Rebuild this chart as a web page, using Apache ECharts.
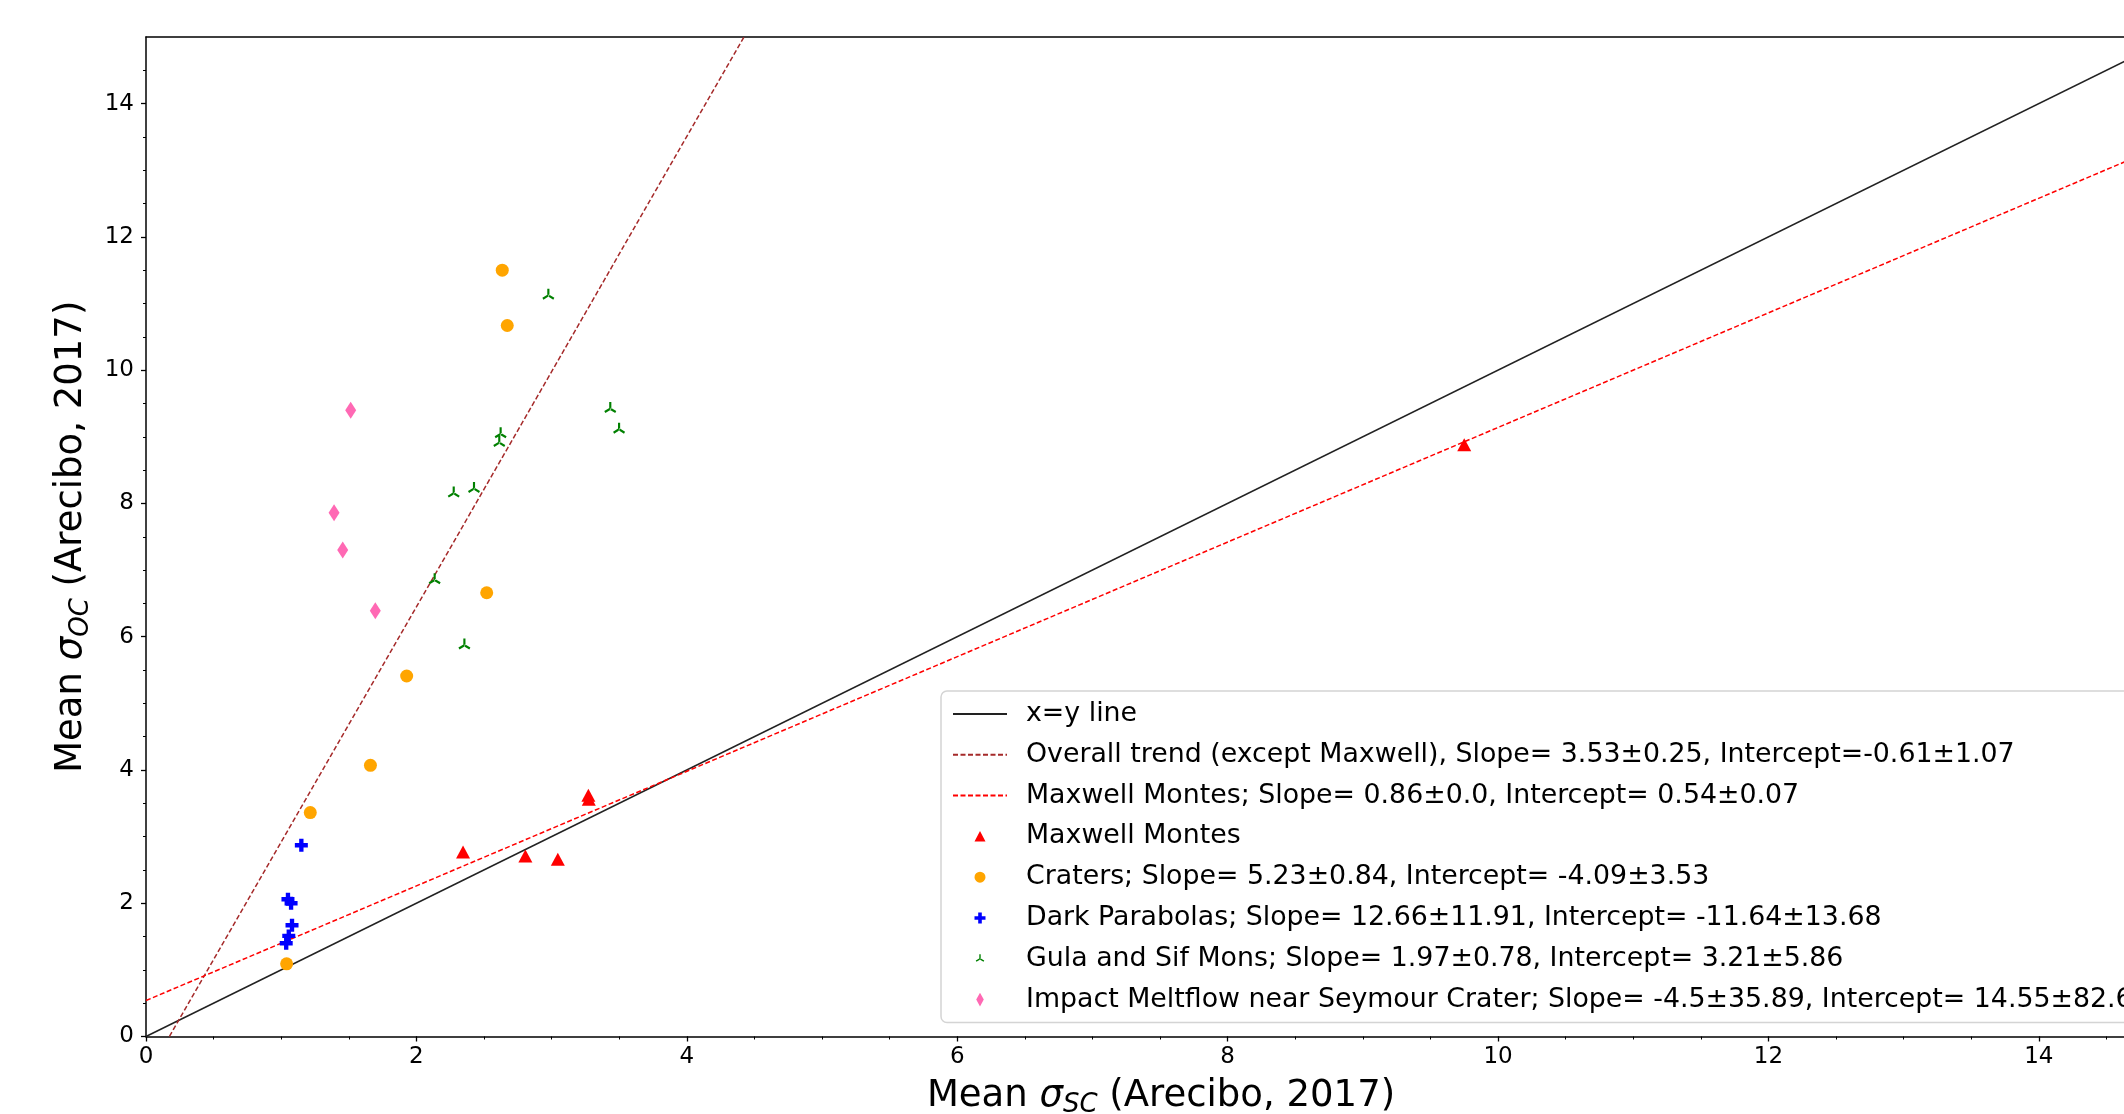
<!DOCTYPE html>
<html>
<head>
<meta charset="utf-8">
<script src="https://cdn.jsdelivr.net/npm/echarts@6/dist/echarts.min.js"></script>
<style>
  html, body { margin: 0; padding: 0; background: #fff; }
  #main { width: 2124px; height: 1114px; }
</style>
</head>
<body>
<div id="main"></div>
<script>
// ---------------- data ----------------
// fit lines (end points)
const xyLineX = [0, 15];
const xyLineY = [0, 15];
const overallX = [0.173, 4.423];
const overallY = [0, 15];
const maxwellLineX = [0, 15];
const maxwellLineY = [0.54, 13.44];

// Maxwell Montes
const maxwellX = [2.345, 2.806, 3.046, 3.272, 3.275, 9.75];
const maxwellY = [2.77, 2.71, 2.66, 3.62, 3.56, 8.88];
// Craters
const cratersX = [2.635, 2.672, 2.52, 1.928, 1.66, 1.215, 1.04];
const cratersY = [11.50, 10.67, 6.66, 5.41, 4.07, 3.36, 1.09];
// Dark Parabolas
const parabolaX = [1.149, 1.05, 1.073, 1.08, 1.056, 1.037];
const parabolaY = [2.87, 2.06, 2.00, 1.67, 1.51, 1.40];
// Gula and Sif Mons
const gulaX = [2.976, 3.434, 3.499, 2.623, 2.613, 2.276, 2.426, 2.135, 2.355];
const gulaY = [11.14, 9.44, 9.13, 9.06, 8.93, 8.17, 8.24, 6.87, 5.89];
// Impact Meltflow near Seymour Crater
const meltX = [1.514, 1.391, 1.455, 1.696];
const meltY = [9.40, 7.86, 7.30, 6.39];

const names = [
  'x=y line',
  'Overall trend (except Maxwell), Slope= 3.53±0.25, Intercept=-0.61±1.07',
  'Maxwell Montes; Slope= 0.86±0.0, Intercept= 0.54±0.07',
  'Maxwell Montes',
  'Craters; Slope= 5.23±0.84, Intercept= -4.09±3.53',
  'Dark Parabolas; Slope= 12.66±11.91, Intercept= -11.64±13.68',
  'Gula and Sif Mons; Slope= 1.97±0.78, Intercept= 3.21±5.86',
  'Impact Meltflow near Seymour Crater; Slope= -4.5±35.89, Intercept= 14.55±82.6'
];

// axis range (the figure is cut at the right edge)
const xMax = 14.63;
const yMax = 15;
const majorTicks = [0, 2, 4, 6, 8, 10, 12, 14];
const minorTicks = [];
for (let v = 0.5; v < 15; v += 0.5) minorTicks.push(v);

// ---------------- helpers ----------------
function zip(xs, ys) {
  return xs.map((x, i) => [x, ys[i]]);
}

const FONT = 'DejaVu Sans';

// marker shapes
const plusPath = 'path://M-1,-3H1V-1H3V1H1V3H-1V1H-3V-1H-1Z';
const triUpPath = 'path://M-1.7,0V-10H1.7V0Z M0.85,1.47L-7.81,6.47L-9.51,3.53L-0.85,-1.47Z M-0.85,1.47L7.81,6.47L9.51,3.53L0.85,-1.47Z';

// legend icons: tiny corner specks keep the box 54x14 so the marker stays centred
const box = 'M-27,-7h0.01v0.01z M27,7h-0.01v-0.01z ';
const legTri = 'path://' + box + 'M0,-5.5L5.5,5L-5.5,5Z';
const legCircle = 'path://' + box + 'M-5.5,0A5.5,5.5,0,1,0,5.5,0A5.5,5.5,0,1,0,-5.5,0Z';
const legPlus = 'path://' + box + 'M-1.8,-5.5H1.8V-1.8H5.5V1.8H1.8V5.5H-1.8V1.8H-5.5V-1.8H-1.8Z';
const legTriUp = 'path://' + box + 'M-0.7,0V-4.5H0.7V0Z M0.35,0.6L-3.55,2.85L-4.25,1.65L-0.35,-0.6Z M-0.35,0.6L3.55,2.85L4.25,1.65L0.35,-0.6Z';
const legDiamond = 'path://' + box + 'M0,-6.8L3.8,0L0,6.8L-3.8,0Z';

function nameRich(sub) {
  return '{m|Mean }{g|σ}{s|' + sub + '}{m| (Arecibo, 2017)}';
}
function nameStyle(pad) {
  return {
    fontFamily: FONT,
    color: '#000',
    fontSize: 37,
    padding: pad,
    rich: {
      m: { fontFamily: FONT, fontSize: 37, lineHeight: 44, color: '#000' },
      g: { fontFamily: FONT, fontSize: 37, fontStyle: 'italic', lineHeight: 44, color: '#000' },
      s: { fontFamily: FONT, fontSize: 26, fontStyle: 'italic', lineHeight: 24, verticalAlign: 'bottom', color: '#000' }
    }
  };
}

const myChart = echarts.init(document.getElementById('main'), null, { renderer: 'canvas' });

const lineLegendStyle = { opacity: 0 };

const option = {
  backgroundColor: '#fff',
  animation: false,
  grid: {
    left: 146,
    top: 37,
    right: 0,
    height: 999.5,
    containLabel: false,
    outerBoundsMode: 'none',
    show: false
  },
  xAxis: [
    {
      type: 'value',
      min: 0,
      max: xMax,
      interval: 2,
      name: nameRich('SC'),
      nameLocation: 'middle',
      nameGap: 38,
      nameTextStyle: nameStyle([0, 0, 0, 52]),
      axisLine: { show: true, onZero: false, lineStyle: { color: '#000', width: 1.5 } },
      axisTick: { show: true, length: 5, customValues: majorTicks, lineStyle: { color: '#000', width: 1.3 } },
      axisLabel: { show: true, customValues: majorTicks, margin: 9, fontFamily: FONT, fontSize: 23, color: '#000' },
      splitLine: { show: false }
    },
    {
      type: 'value',
      min: 0,
      max: xMax,
      interval: 0.5,
      position: 'bottom',
      axisLine: { show: false, onZero: false },
      axisTick: { show: true, length: 3, customValues: minorTicks, lineStyle: { color: '#000', width: 1 } },
      axisLabel: { show: false },
      splitLine: { show: false }
    },
    {
      // top spine
      type: 'value',
      min: 0,
      max: xMax,
      position: 'top',
      axisLine: { show: true, onZero: false, lineStyle: { color: '#000', width: 1.5 } },
      axisTick: { show: false },
      axisLabel: { show: false },
      splitLine: { show: false }
    }
  ],
  yAxis: [
    {
      type: 'value',
      min: 0,
      max: yMax,
      interval: 2,
      name: nameRich('OC'),
      nameLocation: 'middle',
      nameRotate: 90,
      nameGap: 43,
      nameTextStyle: nameStyle(0),
      axisLine: { show: true, onZero: false, lineStyle: { color: '#000', width: 1.5 } },
      axisTick: { show: true, length: 5, customValues: majorTicks, lineStyle: { color: '#000', width: 1.3 } },
      axisLabel: { show: true, customValues: majorTicks, margin: 12, fontFamily: FONT, fontSize: 23, color: '#000' },
      splitLine: { show: false }
    },
    {
      type: 'value',
      min: 0,
      max: yMax,
      interval: 0.5,
      position: 'left',
      axisLine: { show: false, onZero: false },
      axisTick: { show: true, length: 3, customValues: minorTicks, lineStyle: { color: '#000', width: 1 } },
      axisLabel: { show: false },
      splitLine: { show: false }
    }
  ],
  legend: {
    orient: 'vertical',
    left: 941,
    top: 691,
    padding: [8, 60, 8, 11],
    itemWidth: 54,
    itemHeight: 14,
    itemGap: 10.8,
    backgroundColor: '#fff',
    borderColor: '#d4d4d4',
    borderWidth: 1.5,
    borderRadius: 6,
    selectedMode: false,
    textStyle: { fontFamily: FONT, fontSize: 26.8, color: '#000', lineHeight: 30, padding: [0, 0, 0, 14] },
    data: [
      { name: names[0], itemStyle: lineLegendStyle },
      { name: names[1], itemStyle: lineLegendStyle },
      { name: names[2], itemStyle: lineLegendStyle },
      { name: names[3], icon: legTri },
      { name: names[4], icon: legCircle },
      { name: names[5], icon: legPlus },
      { name: names[6], icon: legTriUp },
      { name: names[7], icon: legDiamond }
    ]
  },
  series: [
    {
      name: names[0],
      type: 'line',
      data: zip(xyLineX, xyLineY),
      symbol: 'none',
      clip: true,
      color: '#222',
      lineStyle: { color: '#222', width: 1.5 },
      z: 2
    },
    {
      name: names[1],
      type: 'line',
      data: zip(overallX, overallY),
      symbol: 'none',
      clip: true,
      color: '#a52a2a',
      lineStyle: { color: '#a52a2a', width: 1.5, type: [5, 2.5] },
      z: 2
    },
    {
      name: names[2],
      type: 'line',
      data: zip(maxwellLineX, maxwellLineY),
      symbol: 'none',
      clip: true,
      color: '#ff0000',
      lineStyle: { color: '#ff0000', width: 1.5, type: [5, 2.5] },
      z: 2
    },
    {
      name: names[3],
      type: 'scatter',
      data: zip(maxwellX, maxwellY),
      symbol: 'triangle',
      symbolSize: [14, 13],
      itemStyle: { color: '#ff0000', opacity: 1 },
      z: 3
    },
    {
      name: names[4],
      type: 'scatter',
      data: zip(cratersX, cratersY),
      symbol: 'circle',
      symbolSize: 13,
      itemStyle: { color: '#ffa500', opacity: 1 },
      z: 3
    },
    {
      name: names[5],
      type: 'scatter',
      data: zip(parabolaX, parabolaY),
      symbol: plusPath,
      symbolSize: 13,
      itemStyle: { color: '#0000ff', opacity: 1 },
      z: 3
    },
    {
      name: names[6],
      type: 'scatter',
      data: zip(gulaX, gulaY),
      symbol: triUpPath,
      symbolSize: [12, 11],
      itemStyle: { color: '#008000', opacity: 1 },
      z: 3
    },
    {
      name: names[7],
      type: 'scatter',
      data: zip(meltX, meltY),
      symbol: 'diamond',
      symbolSize: [11, 17],
      itemStyle: { color: '#ff69b4', opacity: 1 },
      z: 3
    }
  ]
};

myChart.setOption(option);
</script>
</body>
</html>
